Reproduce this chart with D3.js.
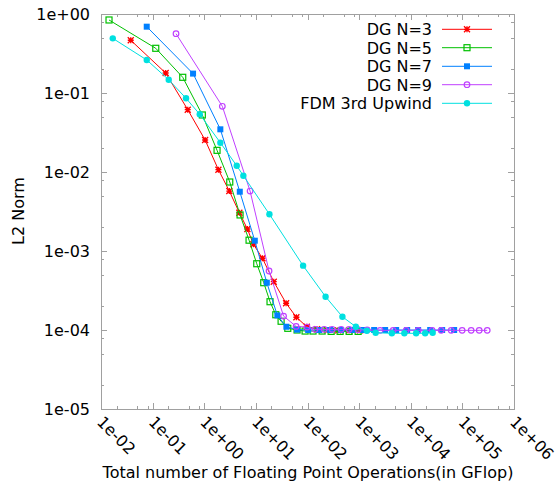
<!DOCTYPE html>
<html><head><meta charset="utf-8">
<script src="https://cdn.jsdelivr.net/npm/d3@7"></script>
<style>body{margin:0;background:#fff}svg{display:block}text{font-family:"DejaVu Sans",sans-serif}</style>
</head><body>
<svg id="c" width="557" height="484"></svg>
<script>
const xTickLabels = ["1e-02","1e-01","1e+00","1e+01","1e+02","1e+03","1e+04","1e+05","1e+06"];
const yTickLabels = ["1e-05","1e-04","1e-03","1e-02","1e-01","1e+00"];
const seriesNames = ["DG N=3","DG N=5","DG N=7","DG N=9","FDM 3rd Upwind"];

const dg3X = [0.0377,0.179,0.479,1.04,1.88,3.06,4.79,6.84,8.95,13.4,22.2,38.5,60.9,96.9,153,240,392,640,1045];
const dg3Y = [0.465,0.179,0.0615,0.0254,0.0107,0.00574,0.00305,0.0019,0.00122,8.09e-4,4.09e-4,2.18e-4,1.45e-4,1.10e-4,1.02e-4,1.0e-4,9.9e-5,9.9e-5,9.9e-5];

const dg5X = [0.0143,0.115,0.383,0.918,1.77,3.12,4.94,7.38,10.4,14.2,18.8,24.3,30.8,41.5,62.8,89.8,128,192,287,428,640,957];
const dg5Y = [0.84,0.368,0.158,0.0527,0.0188,0.00747,0.00286,0.00137,6.9e-4,3.97e-4,2.28e-4,1.56e-4,1.29e-4,1.05e-4,1.0e-4,9.7e-5,9.7e-5,9.7e-5,9.6e-5,9.6e-5,9.6e-5,9.6e-5];

const dg7X = [0.0769,0.607,2.05,4.88,9.53,16.3,26.1,39.0,62.8,103,168,274,448,731,1196,1954,3190,5210,8510,13900,23800,40600,69300];
const dg7Y = [0.691,0.176,0.0347,0.00563,0.00135,3.97e-4,1.53e-4,1.10e-4,1.01e-4,1.0e-4,1.0e-4,1.0e-4,1.0e-4,1.0e-4,1.0e-4,1.0e-4,1.0e-4,1.0e-4,1.0e-4,1.0e-4,1.0e-4,1.0e-4,1.0e-4];

const dg9X = [0.284,2.24,7.72,18.0,34.4,60.1,98.2,140,210,300,448,640,957,1430,2550,4560,8150,13900,26000,38800,60700,99100,148000,212000,303000];
const dg9Y = [0.563,0.0679,0.00574,5.58e-4,1.50e-4,1.11e-4,1.09e-4,1.02e-4,1.02e-4,1.02e-4,1.02e-4,1.02e-4,1.01e-4,1.0e-4,9.9e-5,9.9e-5,9.9e-5,9.9e-5,9.9e-5,9.9e-5,9.9e-5,9.9e-5,9.9e-5,9.9e-5,9.9e-5];

const fdmX = [0.0169,0.0769,0.205,0.444,0.818,2.05,4.26,5.72,18.3,82.2,224,475,863,1410,2090,4300,7510,12700,19000,26600];
const fdmY = [0.492,0.262,0.147,0.0857,0.0538,0.0235,0.0120,0.00898,0.00292,6.52e-4,2.64e-4,1.47e-4,1.10e-4,9.8e-5,9.24e-5,9.08e-5,9.08e-5,9.08e-5,9.08e-5,9.24e-5];

const colors = ["#ff0000","#00c000","#0080ff","#c040ff","#00e0e0"];
const markers = ["star","square","filledSquare","circle","dot"];
const seriesX = [dg3X,dg5X,dg7X,dg9X,fdmX];
const seriesY = [dg3Y,dg5Y,dg7Y,dg9Y,fdmY];

const L=101,R=514,T=14,B=409;
const x = d3.scaleLog().domain([1e-2,1e6]).range([L,R]);
const y = d3.scaleLog().domain([1e-5,1]).range([B,T]);
const svg = d3.select("#c");
const axisCol = "#a0a0a0";

// ticks
const xMaj = xTickLabels.map(s=>+s);
const yMaj = yTickLabels.map(s=>+s);
const minorOf = arr => { const o=[]; arr.slice(0,-1).forEach(d=>[2,5,8].forEach(m=>o.push(d*m))); return o; };
const g = svg.append("g").attr("stroke",axisCol).attr("stroke-width",1);
function xt(vals,len){ vals.forEach(v=>{const px=Math.round(x(v))+0.5;
  g.append("line").attr("x1",px).attr("x2",px).attr("y1",B).attr("y2",B-len);
  g.append("line").attr("x1",px).attr("x2",px).attr("y1",T).attr("y2",T+len);});}
function yt(vals,len){ vals.forEach(v=>{const py=Math.round(y(v))+0.5;
  g.append("line").attr("y1",py).attr("y2",py).attr("x1",L).attr("x2",L+len);
  g.append("line").attr("y1",py).attr("y2",py).attr("x1",R).attr("x2",R-len);});}
xt(xMaj,6); xt(minorOf(xMaj),3); yt(yMaj,6); yt(minorOf(yMaj),3);
svg.append("rect").attr("x",L+0.5).attr("y",T+0.5).attr("width",R-L).attr("height",B-T)
  .attr("fill","none").attr("stroke",axisCol).attr("stroke-width",1);

// tick labels
svg.append("g").selectAll("text").data(yTickLabels).join("text")
  .attr("x",L-11).attr("y",d=>y(+d)+6).attr("text-anchor","end").attr("font-size",16).attr("fill","#000").text(d=>d);
svg.append("g").selectAll("text").data(xTickLabels).join("text")
  .attr("transform",d=>`translate(${x(+d)-5},${B+14}) rotate(45)`)
  .attr("text-anchor","start").attr("font-size",16).attr("fill","#000").text(d=>d);

// axis titles
svg.append("text").attr("x",308).attr("y",478).attr("text-anchor","middle").attr("font-size",16).text("Total number of Floating Point Operations(in GFlop)");
svg.append("text").attr("transform",`translate(24,211) rotate(-90)`).attr("text-anchor","middle").attr("font-size",16).text("L2 Norm");

function drawMarker(sel,type,cx,cy,col){
  const s=3;
  if(type==="star"){
    sel.append("path").attr("d",`M${cx-s},${cy}H${cx+s}M${cx},${cy-s}V${cy+s}M${cx-s},${cy-s}L${cx+s},${cy+s}M${cx-s},${cy+s}L${cx+s},${cy-s}`)
      .attr("stroke",col).attr("stroke-width",1.3).attr("fill","none");
  } else if(type==="square"){
    sel.append("rect").attr("x",cx-s).attr("y",cy-s).attr("width",2*s).attr("height",2*s).attr("fill","none").attr("stroke",col).attr("stroke-width",1.2);
  } else if(type==="filledSquare"){
    sel.append("rect").attr("x",cx-s).attr("y",cy-s).attr("width",2*s).attr("height",2*s).attr("fill",col);
  } else if(type==="circle"){
    sel.append("circle").attr("cx",cx).attr("cy",cy).attr("r",2.8).attr("fill","#fff").attr("fill-opacity",0).attr("stroke",col).attr("stroke-width",1.2);
  } else {
    sel.append("circle").attr("cx",cx).attr("cy",cy).attr("r",3.2).attr("fill",col);
  }
}

const line = d3.line().x(d=>x(d[0])).y(d=>y(d[1]));
seriesX.forEach((xs,i)=>{
  const pts = xs.map((v,j)=>[v,seriesY[i][j]]);
  const sg = svg.append("g");
  sg.append("path").attr("d",line(pts)).attr("fill","none").attr("stroke",colors[i]).attr("stroke-width",1);
  pts.forEach(p=>drawMarker(sg,markers[i],x(p[0]),y(p[1]),colors[i]));
});

// legend
const legY = [29.3,47.7,66.3,84.7,103.3];
seriesNames.forEach((n,i)=>{
  const lg = svg.append("g");
  lg.append("text").attr("x",432).attr("y",legY[i]+6).attr("text-anchor","end").attr("font-size",16).text(n);
  lg.append("line").attr("x1",442).attr("x2",492).attr("y1",legY[i]).attr("y2",legY[i]).attr("stroke",colors[i]).attr("stroke-width",1);
  drawMarker(lg,markers[i],467,legY[i],colors[i]);
});
</script>
</body></html>
